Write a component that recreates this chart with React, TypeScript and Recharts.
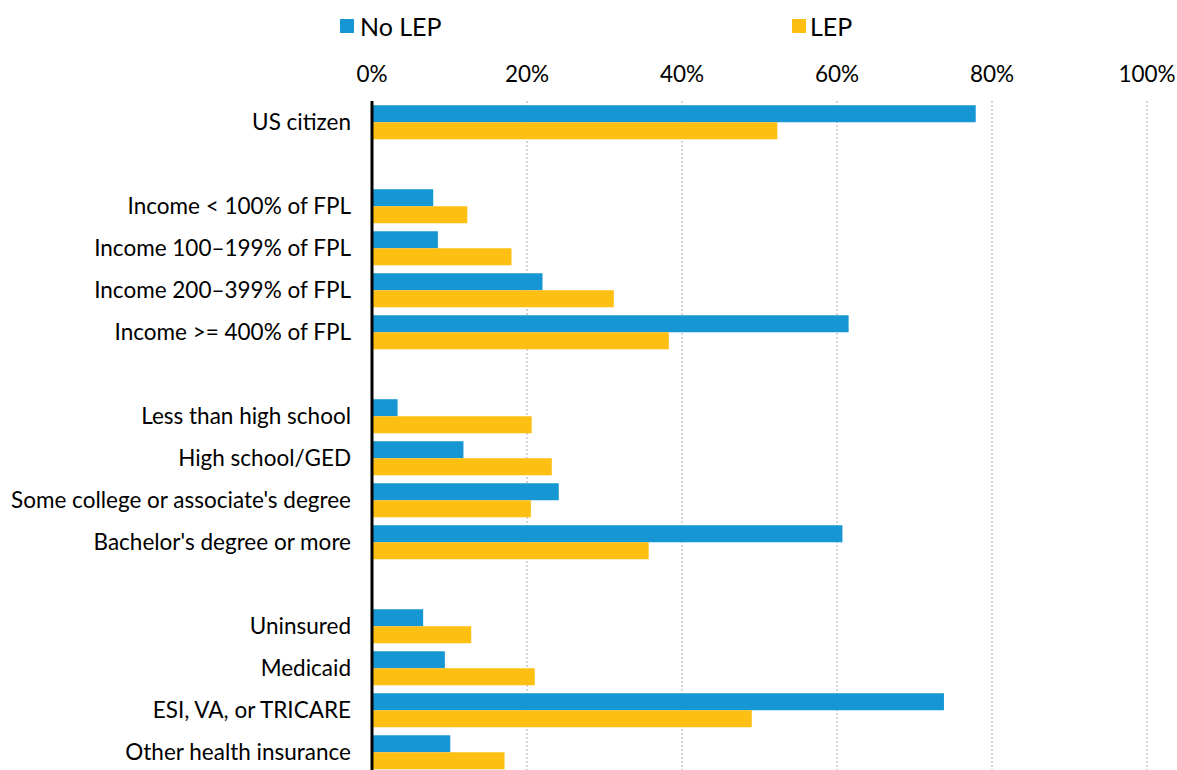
import React from 'react';
import { BarChart, Bar, XAxis, YAxis, CartesianGrid, Legend } from 'recharts';

// blank entries are spacer rows between the groups
const categories = [
  'US citizen',
  '',
  'Income < 100% of FPL',
  'Income 100–199% of FPL',
  'Income 200–399% of FPL',
  'Income >= 400% of FPL',
  '',
  'Less than high school',
  'High school/GED',
  "Some college or associate's degree",
  "Bachelor's degree or more",
  '',
  'Uninsured',
  'Medicaid',
  'ESI, VA, or TRICARE',
  'Other health insurance',
];

const noLep = [77.9, null, 7.9, 8.5, 22.0, 61.5, null, 3.3, 11.8, 24.1, 60.7, null, 6.6, 9.4, 73.8, 10.1];
const lep = [52.3, null, 12.3, 18.0, 31.2, 38.3, null, 20.6, 23.2, 20.5, 35.7, null, 12.8, 21.0, 49.0, 17.1];

const xTicks = [0, 20, 40, 60, 80, 100];

const data = categories.map((name, i) => ({ id: i, name, noLep: noLep[i], lep: lep[i] }));

const BLUE = '#1696d2';
const YELLOW = '#fdbf11';
const FONT = 'Lato, "Open Sans", sans-serif';

const renderLegend = () => (
  <div style={{ position: 'relative', height: 44, fontFamily: FONT, fontSize: 25, color: '#000' }}>
    <div style={{ position: 'absolute', left: 340, top: 11, display: 'flex', alignItems: 'center' }}>
      <span style={{ width: 14, height: 14, background: BLUE, marginRight: 6, display: 'inline-block' }} />
      No LEP
    </div>
    <div style={{ position: 'absolute', left: 792, top: 11, display: 'flex', alignItems: 'center' }}>
      <span style={{ width: 14, height: 14, background: YELLOW, marginRight: 4, display: 'inline-block' }} />
      LEP
    </div>
  </div>
);

export default function App() {
  return (
    <div style={{ position: 'absolute', left: 0, top: 0, width: 1177, height: 770, overflow: 'hidden', background: '#fff' }}>
      <BarChart
        width={1177}
        height={775}
        data={data}
        layout="vertical"
        margin={{ top: 12, right: 30, bottom: 2, left: 0 }}
        barGap={0}
        barCategoryGap="10%"
      >
        <Legend verticalAlign="top" align="left" content={renderLegend} wrapperStyle={{ top: 0, left: 0, width: 1177 }} />
        <CartesianGrid horizontal={false} vertical={true} stroke="#d4d4d4" strokeWidth={2} strokeDasharray="2 2" />
        <XAxis
          type="number"
          orientation="top"
          domain={[0, 100]}
          ticks={xTicks}
          tickFormatter={(v) => `${v}%`}
          axisLine={false}
          tickLine={false}
          tickSize={0}
          tickMargin={19}
          height={45}
          tick={{ fill: '#000', fontSize: 22.5, fontFamily: FONT }}
        />
        <YAxis
          type="category"
          dataKey="id"
          width={372}
          tickFormatter={(i) => categories[i]}
          interval={0}
          axisLine={{ stroke: '#000', strokeWidth: 3 }}
          tickLine={false}
          tickSize={0}
          tickMargin={21}
          tick={{ fill: '#000', fontSize: 22.5, fontFamily: FONT }}
        />
        <Bar dataKey="noLep" fill={BLUE} isAnimationActive={false} />
        <Bar dataKey="lep" fill={YELLOW} isAnimationActive={false} />
      </BarChart>
    </div>
  );
}
